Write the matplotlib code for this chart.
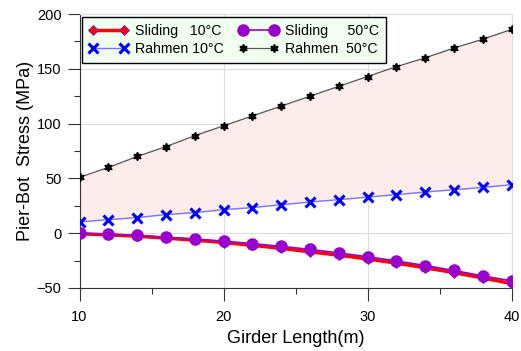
import numpy as np
import matplotlib.pyplot as plt
from matplotlib.ticker import MultipleLocator

plt.rcParams['font.family'] = ['Liberation Sans', 'DejaVu Sans']

# girder length (m)
girder = [10, 12, 14, 16, 18, 20, 22, 24, 26, 28, 30, 32, 34, 36, 38, 40]
# stress values (MPa)
sliding_10 = [-0.5, -1.5, -2.7, -4.5, -6.3, -8.5, -11, -13.8, -17, -20, -23.5, -27.3, -31.5, -36, -40.8, -46]
sliding_50 = [0, -1, -2, -3.6, -5.3, -7.2, -9.5, -12, -14.8, -18, -21.5, -25.3, -29.5, -34, -39, -43.5]
rahmen_10 = [10.3, 12.4, 14.3, 17, 18.8, 21.5, 23.4, 26, 28.5, 30.6, 33, 35.2, 37.6, 39.7, 41.8, 44.3]
rahmen_50 = [51, 60, 70, 79, 89, 98, 107, 116, 125, 134, 143, 152, 160, 169, 177, 186]

fig = plt.figure(figsize=(5.21, 3.51), dpi=100)
ax = fig.add_axes([0.1526, 0.1795, 0.8294, 0.7805])

ax.fill_between(girder, rahmen_10, rahmen_50, color='#fdecec', zorder=1)

star6 = (6, 1, 0)
l1, = ax.plot(girder, sliding_10, color='red', lw=2.5, marker='D', ms=5,
              mfc='red', mec='#6a1fd0', mew=0.6, label='Sliding   10°C', zorder=4)
l2, = ax.plot(girder, sliding_50, color='#9a00cc', lw=1.2, marker='o', ms=8,
              mfc='#9a00cc', mec='#9a00cc', label='Sliding     50°C', zorder=5)
l3, = ax.plot(girder, rahmen_10, color='#7777ff', lw=1.0, marker='x', ms=6.5,
              mec='blue', mew=2.2, label='Rahmen 10°C', zorder=3)
l4, = ax.plot(girder, rahmen_50, color='#555555', lw=0.9, marker=star6, ms=6,
              mfc='black', mec='black', label='Rahmen  50°C', zorder=3)

ax.set_xlim(10, 40)
ax.set_ylim(-50, 200)
ax.xaxis.set_major_locator(MultipleLocator(10))
ax.xaxis.set_minor_locator(MultipleLocator(5))
ax.yaxis.set_major_locator(MultipleLocator(50))
ax.yaxis.set_minor_locator(MultipleLocator(25))
ax.grid(True, which='major', color='#dddddd', lw=0.8, zorder=0)
ax.set_axisbelow(True)

for s in ['top', 'right']:
    ax.spines[s].set_color('#dddddd')
for s in ['left', 'bottom']:
    ax.spines[s].set_color('#333333')
ax.tick_params(which='major', direction='out', length=9, width=0.8, labelsize=10.5,
               color='#333333', top=False, right=False)
ax.tick_params(axis='x', which='major', pad=7)
ax.tick_params(axis='y', which='major', pad=4)
ax.tick_params(which='minor', direction='out', length=4.5, width=0.8,
               color='#333333', top=False, right=False)

ax.set_xlabel('Girder Length(m)', fontsize=13, labelpad=4)
ax.set_ylabel('Pier-Bot  Stress (MPa)', fontsize=13, labelpad=2)

leg = ax.legend(handles=[l1, l3, l2, l4], ncol=2, loc='upper left',
                bbox_to_anchor=(0.005, 0.99), borderaxespad=0, fontsize=10.2,
                numpoints=2, frameon=True, fancybox=False, edgecolor='black',
                facecolor='#f0fff0', framealpha=1, handlelength=2.8,
                columnspacing=1.0, handletextpad=0.5, labelspacing=0.3,
                borderpad=0.5)
leg.get_frame().set_linewidth(1.0)

fig.savefig('out.png', dpi=100)
